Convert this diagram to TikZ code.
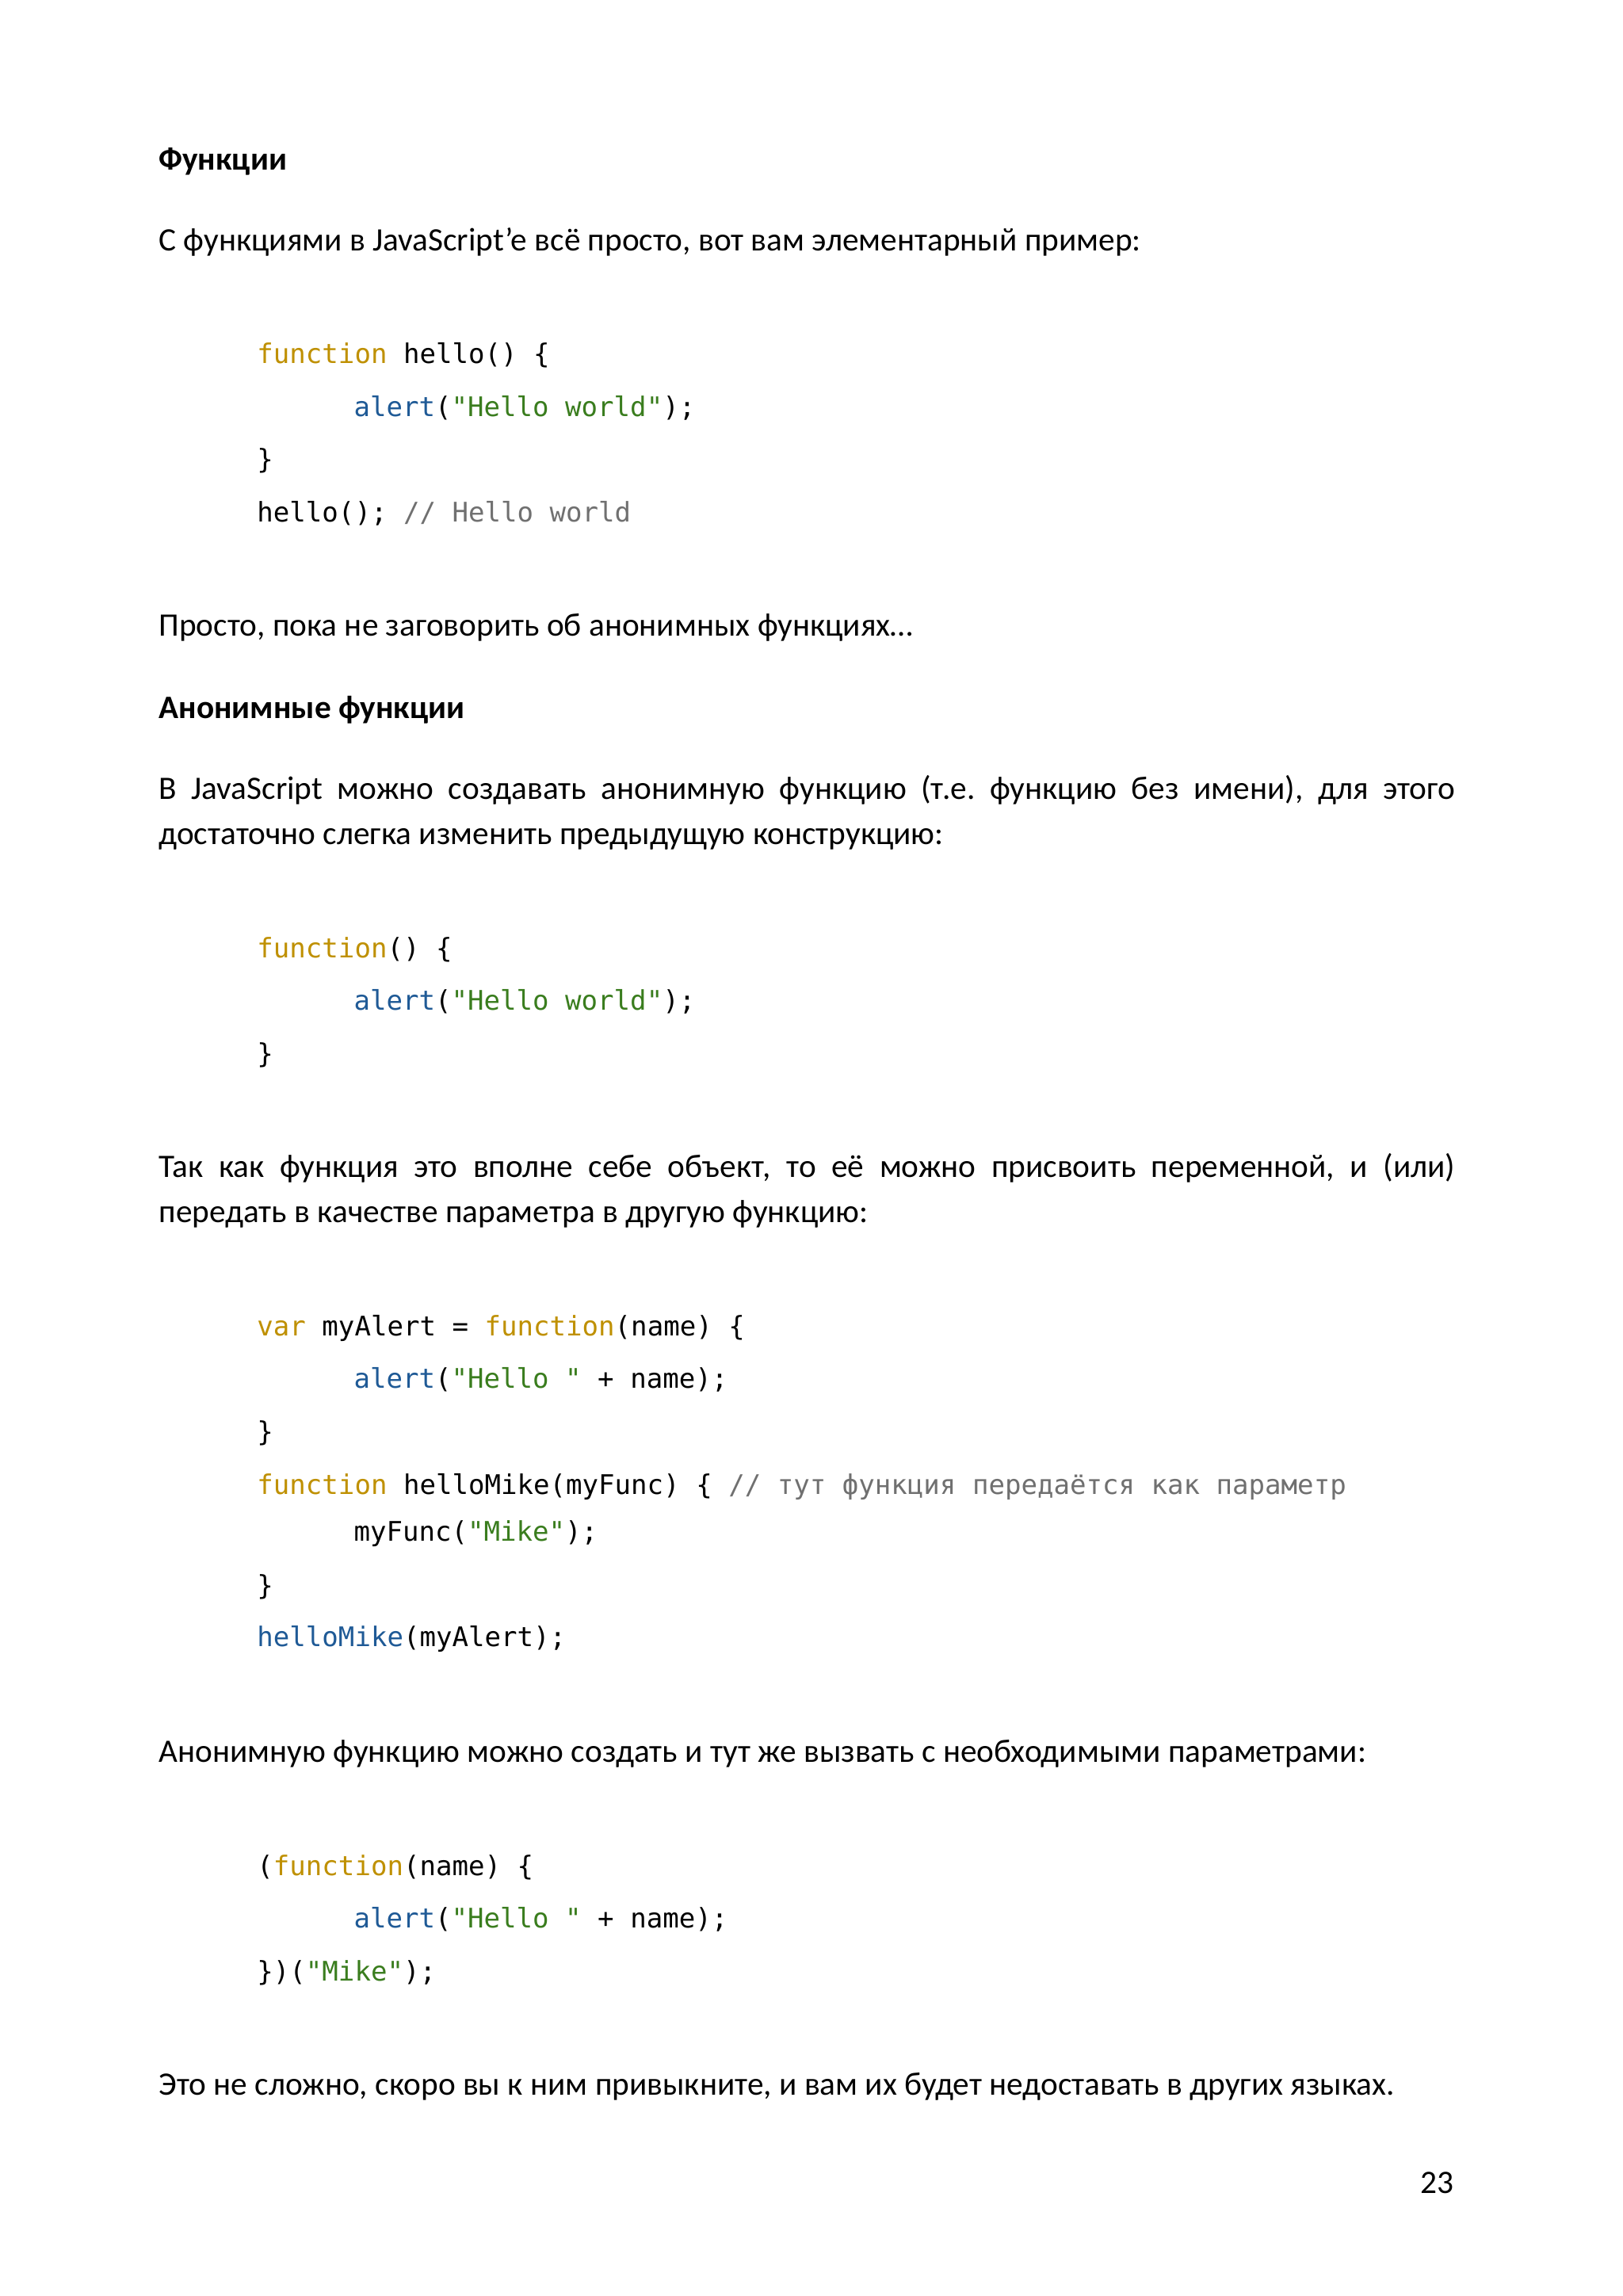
\documentclass[tikz,border=0pt]{standalone}
\usepackage{fontspec}
\setmainfont{Carlito}
\newfontfamily\codefont{DejaVu Sans Mono}
\frenchspacing
\definecolor{kw}{HTML}{BF9000}
\definecolor{fn}{HTML}{1F5A96}
\definecolor{st}{HTML}{3A7D1E}
\definecolor{cm}{HTML}{707070}
\tikzset{
  body/.style={anchor=base west, inner sep=0pt, font=\fontsize{12}{14}\selectfont},
  code/.style={anchor=base west, inner sep=0pt, font=\codefont\fontsize{9.9}{12}\selectfont},
}
\newcommand{\K}[1]{\textcolor{kw}{#1}}
\newcommand{\F}[1]{\textcolor{fn}{#1}}
\newcommand{\Sq}[1]{\textcolor{st}{#1}}
\newcommand{\Cm}[1]{\textcolor{cm}{#1}}
\newcommand{\J}[1]{\makebox[475.2pt][s]{#1}}
\begin{document}
\begin{tikzpicture}[x=0.5375pt,y=-0.5375pt]
\useasboundingbox[fill=white] (0,0) rectangle (1107,1566);
\node[body] (h1) at (108,116) {\textbf{Функции}};
\node[body] (p1) at (108,171) {С функциями в JavaScript'e всё просто, вот вам элементарный пример:};
\node[code] (c1) at (175,248) {\K{function} hello() \{};
\node[code] (c2) at (241,284) {\F{alert}(\Sq{"Hello world"});};
\node[code] (c3) at (175,320) {\}};
\node[code] (c4) at (175,356) {hello(); \Cm{// Hello world}};
\node[body] (p2) at (108,434) {Просто, пока не заговорить об анонимных функциях…};
\node[body] (h2) at (108,490) {\textbf{Анонимные функции}};
\node[body] (p3) at (108,545) {\J{В JavaScript можно создавать анонимную функцию (т.е. функцию без имени), для этого}};
\node[body] (p3b) at (108,576) {достаточно слегка изменить предыдущую конструкцию:};
\node[code] (d1) at (175,653) {\K{function}() \{};
\node[code] (d2) at (241,689) {\F{alert}(\Sq{"Hello world"});};
\node[code] (d3) at (175,725) {\}};
\node[body] (p4) at (108,803) {\J{Так как функция это вполне себе объект, то её можно присвоить переменной, и (или)}};
\node[body] (p4b) at (108,834) {передать в качестве параметра в другую функцию:};
\node[code] (e1) at (175,911) {\K{var} myAlert = \K{function}(name) \{};
\node[code] (e2) at (241,947) {\F{alert}(\Sq{"Hello "} + name);};
\node[code] (e3) at (175,983) {\}};
\node[code] (e4) at (175,1019) {\K{function} helloMike(myFunc) \{ \Cm{// тут функция передаётся как параметр}};
\node[code] (e5) at (241,1051) {myFunc(\Sq{"Mike"});};
\node[code] (e6) at (175,1088) {\}};
\node[code] (e7) at (175,1123) {\F{helloMike}(myAlert);};
\node[body] (p5) at (108,1202) {Анонимную функцию можно создать и тут же вызвать с необходимыми параметрами:};
\node[code] (f1) at (175,1279) {(\K{function}(name) \{};
\node[code] (f2) at (241,1315) {\F{alert}(\Sq{"Hello "} + name);};
\node[code] (f3) at (175,1351) {\})(\Sq{"Mike"});};
\node[body] (p6) at (108,1429) {Это не сложно, скоро вы к ним привыкните, и вам их будет недоставать в других языках.};
\node[body, anchor=base east] (pg) at (992,1496) {23};
\end{tikzpicture}
\end{document}
